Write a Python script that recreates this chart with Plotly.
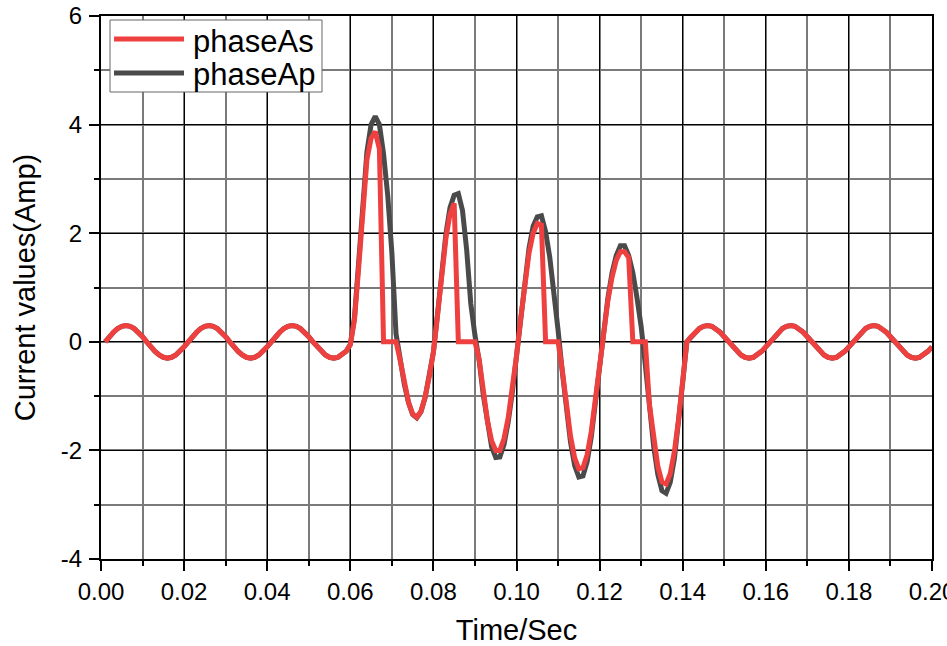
import numpy as np
import plotly.graph_objects as go

# Sample clock: 1 ms steps from 0.001 s to 0.200 s
dt = 0.001
time_s = np.round(np.arange(1, 201) * dt, 3)

# Steady-state current before the fault (0.001 .. 0.060 s)
pre_fault = [
    0.000, 0.093, 0.176, 0.243, 0.285, 0.300, 0.285, 0.243, 0.176, 0.093,
    0.000, -0.093, -0.176, -0.243, -0.285, -0.300, -0.285, -0.243, -0.176, -0.093,
    0.000, 0.093, 0.176, 0.243, 0.285, 0.300, 0.285, 0.243, 0.176, 0.093,
    0.000, -0.093, -0.176, -0.243, -0.285, -0.300, -0.285, -0.243, -0.176, -0.093,
    0.000, 0.093, 0.176, 0.243, 0.285, 0.300, 0.285, 0.243, 0.176, 0.093,
    0.000, -0.093, -0.176, -0.243, -0.285, -0.300, -0.285, -0.243, -0.176, -0.050,
]

# Fault interval (0.061 .. 0.140 s), phase A primary current
phaseAp_fault = [
    0.45, 1.45, 2.45, 3.50, 4.00, 4.15, 4.00, 3.46, 2.70, 1.65,
    0.15, -0.34, -0.78, -1.12, -1.34, -1.40, -1.29, -1.03, -0.65, -0.19,
    0.51, 1.31, 1.98, 2.47, 2.70, 2.73, 2.42, 1.70, 0.70, 0.12,
    -0.34, -0.98, -1.53, -1.93, -2.13, -2.12, -1.89, -1.48, -0.93, -0.27,
    0.44, 1.14, 1.72, 2.13, 2.30, 2.32, 2.03, 1.56, 0.94, 0.22,
    -0.54, -1.26, -1.85, -2.28, -2.49, -2.47, -2.21, -1.75, -1.12, -0.38,
    0.28, 0.81, 1.27, 1.59, 1.77, 1.77, 1.59, 1.27, 0.81, 0.28,
    -0.42, -1.23, -1.92, -2.44, -2.74, -2.79, -2.59, -2.15, -1.52, -0.75,
]

# Fault interval (0.061 .. 0.140 s), phase A secondary current
phaseAs_fault = [
    0.40, 1.35, 2.30, 3.35, 3.75, 3.87, 3.55, 0.00, 0.00, 0.00,
    0.00, -0.34, -0.77, -1.11, -1.33, -1.39, -1.28, -1.02, -0.64, -0.19,
    0.50, 1.25, 1.90, 2.35, 2.55, 0.00, 0.00, 0.00, 0.00, 0.00,
    -0.32, -0.93, -1.45, -1.82, -2.00, -2.00, -1.78, -1.40, -0.88, -0.26,
    0.42, 1.08, 1.63, 2.00, 2.18, 2.15, 0.00, 0.00, 0.00, 0.00,
    -0.51, -1.18, -1.74, -2.14, -2.34, -2.32, -2.08, -1.65, -1.05, -0.36,
    0.26, 0.76, 1.19, 1.50, 1.66, 1.66, 1.55, 0.00, 0.00, 0.00,
    0.00, -1.16, -1.80, -2.29, -2.58, -2.62, -2.43, -2.02, -1.43, -0.70,
]

# Steady-state current after the fault is cleared (0.141 .. 0.200 s)
post_fault = [
    0.000, 0.093, 0.176, 0.243, 0.285, 0.300, 0.285, 0.243, 0.176, 0.093,
    0.000, -0.093, -0.176, -0.243, -0.285, -0.300, -0.285, -0.243, -0.176, -0.093,
    0.000, 0.093, 0.176, 0.243, 0.285, 0.300, 0.285, 0.243, 0.176, 0.093,
    0.000, -0.093, -0.176, -0.243, -0.285, -0.300, -0.285, -0.243, -0.176, -0.093,
    0.000, 0.093, 0.176, 0.243, 0.285, 0.300, 0.285, 0.243, 0.176, 0.093,
    0.000, -0.093, -0.176, -0.243, -0.285, -0.300, -0.285, -0.243, -0.176, -0.093,
]

phaseAp = pre_fault + phaseAp_fault + post_fault
phaseAs = pre_fault + phaseAs_fault + post_fault

x_tickvals = [0.00, 0.02, 0.04, 0.06, 0.08, 0.10, 0.12, 0.14, 0.16, 0.18, 0.20]
x_ticktext = ["0.00", "0.02", "0.04", "0.06", "0.08", "0.10", "0.12", "0.14", "0.16", "0.18", "0.20"]
y_tickvals = [-4, -2, 0, 2, 4, 6]
y_ticktext = ["-4", "-2", "0", "2", "4", "6"]

series_names = ["phaseAs", "phaseAp"]
RED = "#EF4040"
GREY = "#4A4A4A"
FONT = "Liberation Sans, Arial, sans-serif"

W, H = 947, 646
ML, MR, MT, MB = 101, 15, 16, 87
PW, PH = W - ML - MR, H - MT - MB


def px_x(p):
    return (p - ML) / PW


def px_y(p):
    return (H - MB - p) / PH


fig = go.Figure()
fig.add_trace(go.Scatter(x=time_s, y=phaseAp, mode="lines", name=series_names[1],
                         line=dict(color=GREY, width=5), showlegend=False))
fig.add_trace(go.Scatter(x=time_s, y=phaseAs, mode="lines", name=series_names[0],
                         line=dict(color=RED, width=5), showlegend=False))

axis_common = dict(
    showline=True, linecolor="black", linewidth=2, mirror=True,
    showgrid=True, gridcolor="black", gridwidth=1,
    ticks="outside", ticklen=10, tickwidth=2, tickcolor="black",
    zeroline=False,
    tickfont=dict(family=FONT, size=24, color="black"),
)

fig.update_xaxes(
    range=[0, 0.2], tickvals=x_tickvals, ticktext=x_ticktext,
    ticklabeloverflow="allow",
    minor=dict(dtick=0.01, showgrid=True, gridcolor="#7a7a7a", gridwidth=1.5,
               ticks="outside", ticklen=5, tickwidth=2, tickcolor="black"),
    title=dict(text="Time/Sec", font=dict(family=FONT, size=29, color="black"), standoff=16),
    **axis_common,
)
fig.update_yaxes(
    range=[-4, 6], tickvals=y_tickvals, ticktext=y_ticktext,
    minor=dict(dtick=1, showgrid=True, gridcolor="#7a7a7a", gridwidth=1.5,
               ticks="outside", ticklen=5, tickwidth=2, tickcolor="black"),
    title=dict(text="Current values(Amp)", font=dict(family=FONT, size=29, color="black"), standoff=17),
    ticklabelstandoff=2,
    **axis_common,
)

# Legend box with line samples
shapes = [
    dict(type="rect", xref="paper", yref="paper",
         x0=px_x(110), x1=px_x(322), y0=px_y(92), y1=px_y(20),
         line=dict(color="#666666", width=1), fillcolor="white", layer="above"),
    dict(type="line", xref="paper", yref="paper",
         x0=px_x(114), x1=px_x(184), y0=px_y(39), y1=px_y(39),
         line=dict(color=RED, width=5), layer="above"),
    dict(type="line", xref="paper", yref="paper",
         x0=px_x(114), x1=px_x(184), y0=px_y(73), y1=px_y(73),
         line=dict(color=GREY, width=5), layer="above"),
]
annotations = [
    dict(xref="paper", yref="paper", x=px_x(191), y=px_y(41), text=series_names[0],
         showarrow=False, xanchor="left", yanchor="middle",
         font=dict(family=FONT, size=31, color="black")),
    dict(xref="paper", yref="paper", x=px_x(191), y=px_y(75), text=series_names[1],
         showarrow=False, xanchor="left", yanchor="middle",
         font=dict(family=FONT, size=31, color="black")),
]

fig.update_layout(
    width=W, height=H,
    margin=dict(l=ML, r=MR, t=MT, b=MB, autoexpand=False),
    paper_bgcolor="white", plot_bgcolor="white",
    font=dict(family=FONT, color="black"),
    shapes=shapes, annotations=annotations,
    showlegend=False,
)

fig.write_html("out.html")
